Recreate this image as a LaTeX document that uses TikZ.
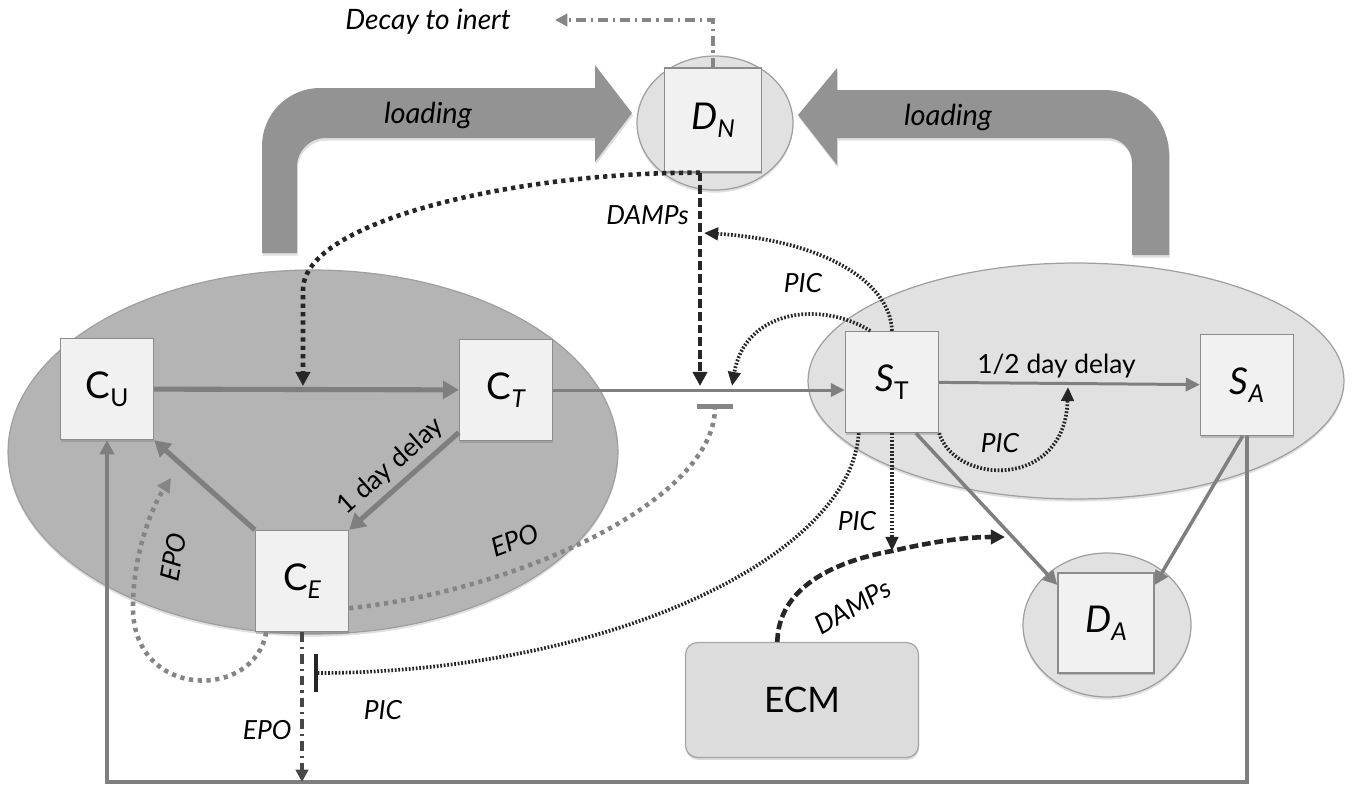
\documentclass[tikz,border=0pt]{standalone}
\usepackage{fontspec}
\setmainfont{Lato}
\usetikzlibrary{arrows.meta, shapes.geometric, shadows}

\definecolor{darkzone}{HTML}{B4B4B4}
\definecolor{lightzone}{HTML}{E1E1E1}
\definecolor{boxfill}{HTML}{F1F1F1}
\definecolor{boxline}{HTML}{8C8C8C}
\definecolor{flowgray}{HTML}{7F7F7F}
\definecolor{loadgray}{HTML}{939393}
\definecolor{epogray}{HTML}{858585}
\definecolor{darkline}{HTML}{262626}
\definecolor{ecmfill}{HTML}{DCDCDC}

% small lowered index for the state names
\newcommand{\lsub}[1]{\raisebox{-0.22em}{\fontsize{14}{16}\selectfont #1}}

\begin{document}
\begin{tikzpicture}[
  x=0.02cm, y=-0.02cm,
  zone/.style={ellipse, inner sep=0pt, draw=gray!75, line width=0.7pt,
               drop shadow={shadow xshift=0pt, shadow yshift=-1.5pt, opacity=0.25}},
  box/.style={rectangle, draw=boxline, fill=boxfill, line width=0.8pt,
              minimum width=1.86cm, minimum height=2.02cm, inner sep=0pt,
              font=\fontsize{21}{25}\selectfont,
              drop shadow={shadow xshift=0.3pt, shadow yshift=-1.4pt, opacity=0.4}},
  ecmbox/.style={rectangle, rounded corners=0.24cm, draw=gray!70, fill=ecmfill,
                 line width=0.7pt, minimum width=4.66cm, minimum height=2.3cm,
                 font=\fontsize{20}{24}\selectfont,
                 drop shadow={shadow xshift=0.3pt, shadow yshift=-1.4pt, opacity=0.3}},
  loadarrow/.style={fill=loadgray,
                    drop shadow={shadow xshift=0.5pt, shadow yshift=-1.5pt, opacity=0.25}},
  lbl/.style={font=\fontsize{15}{18}\selectfont\itshape, inner sep=2pt},
  txt/.style={font=\fontsize{15}{18}\selectfont, inner sep=2pt},
  thickflow/.style={draw=flowgray, line width=2.9pt, -{Triangle[length=9pt, width=10pt]}},
  midflow/.style={draw=flowgray, line width=2pt, -{Triangle[length=8pt, width=8pt]}},
  thinflow/.style={draw=flowgray, line width=1.7pt, -{Triangle[length=8pt, width=7.5pt]}},
  dotthick/.style={draw=darkline, line width=2.6pt, dash pattern=on 2.4pt off 2.4pt,
                   -{Triangle[length=8pt, width=8pt]}},
  picdot/.style={draw=darkline, line width=2.1pt, dash pattern=on 1pt off 1pt,
                 -{Triangle[length=8pt, width=7pt]}},
  dampsline/.style={draw=darkline, line width=2.6pt, dash pattern=on 5pt off 2.2pt,
                    -{Triangle[length=8pt, width=8pt]}},
  epodash/.style={draw=epogray, line width=2.6pt, dash pattern=on 2.4pt off 2.6pt,
                  -{Triangle[length=8pt, width=8pt]}},
  epochain/.style={draw=darkline!85, line width=2pt,
                   dash pattern=on 5.5pt off 2.8pt on 1.3pt off 2.8pt,
                   -{Triangle[length=7pt, width=7pt]}},
  decaychain/.style={draw=epogray, line width=1.9pt,
                     dash pattern=on 5.5pt off 2.8pt on 1.3pt off 2.8pt,
                     -{Triangle[length=7pt, width=7pt]}},
]
\useasboundingbox (0,0) rectangle (1359,785);

% compartments
\node[zone, fill=darkzone, minimum width=12.2cm, minimum height=7.28cm] (ctissue) at (313,452) {};
\node[zone, fill=lightzone, minimum width=10.72cm, minimum height=4.72cm] (stissue) at (1076,381) {};
\node[zone, fill=lightzone, minimum width=3.12cm, minimum height=2.68cm] (dnzone) at (715,123) {};
\node[zone, fill=lightzone, minimum width=3.36cm, minimum height=2.88cm] (dazone) at (1107,625) {};

% loading arrows
\path[loadarrow] (262,253) -- (262,146) .. controls (262,114) and (288,88) .. (320,88)
  -- (595,88) -- (595,65) -- (632,113) -- (595,162) -- (595,138) -- (325,138)
  .. controls (310,138) and (297,151) .. (297,166) -- (297,253) -- cycle;
\path[loadarrow] (1169,255) -- (1169,155) .. controls (1169,119) and (1140,90) .. (1104,90)
  -- (837,90) -- (837,68) -- (798,115) -- (837,165) -- (837,138) -- (1107,138)
  .. controls (1121,138) and (1132,149) .. (1132,163) -- (1132,255) -- cycle;
\node[lbl, font=\fontsize{16.5}{19}\selectfont\itshape] (loadL) at (428,115) {loading};
\node[lbl, font=\fontsize{16.5}{19}\selectfont\itshape] (loadR) at (948,117) {loading};

% cell states
\node[box] (CU) at (107,389) {C\lsub{U}};
\node[box] (CT) at (506,390) {C\lsub{\itshape T}};
\node[box] (CE) at (302,581) {C\lsub{\itshape E}};
\node[box] (ST) at (892,382) {\textit{S}\lsub{T}};
\node[box] (SA) at (1247,385) {\textit{S}\lsub{\itshape A}};
\node[box, minimum width=1.94cm, minimum height=2.08cm] (DN) at (713,120) {\textit{D}\lsub{\itshape N}};
\node[box, minimum width=1.92cm, minimum height=2cm] (DA) at (1106,623) {\textit{D}\lsub{\itshape A}};
\node[ecmbox] (ECM) at (802,700) {ECM};
\node[lbl, font=\fontsize{16}{19}\selectfont\itshape] (decay) at (428,22) {Decay to inert};

% hit points on other connectors
\coordinate (cuhit) at (303,386);
\coordinate (damphit) at (700,386);
\coordinate (cthit) at (732,386);
\coordinate (epobar) at (715,404);
\coordinate (dnhit) at (704,233);
\coordinate (sahit) at (1068,387);
\coordinate (ecmhit) at (892,551);
\coordinate (dampend) at (1005,537);
\coordinate (picbar) at (314,673);
\coordinate (cehit) at (171,478);
\coordinate (botline) at (0,782);
\coordinate (decayend) at (555,20);

% main flow
\draw[thickflow] (CU) -- (CT);
\draw[thickflow] (CT.222) -- node[txt, sloped, above=1pt] {1 day delay} (CE.north east);
\draw[thickflow] (CE.north west) -- (CU.south east);
\draw[thinflow] (CT) -- (CT -| ST.west);
\draw[thinflow] (ST) -- node[txt, above, pos=0.45] {1/2 day delay} (SA);
\draw[midflow] (ST.-65) -- (DA.142);
\draw[midflow] (SA.-95) -- (DA.38);
\draw[midflow] (SA.south) -- (SA.south |- botline) -| (CU.south);

% DAMPs from dead cells
\draw[dampsline] (DN.south -| damphit) -- node[lbl, left, pos=0.2, xshift=-3pt] {DAMPs} (damphit);
\draw[dotthick] (DN.south -| damphit) .. controls (520,172) and (303,220) .. (303,290) -- (cuhit);
\draw[decaychain] (DN.north) |- (decayend);
\draw[dampsline] (ECM.113) .. controls (778,590) and (830,562) .. (ecmhit)
  .. controls (940,540) and (970,537) .. (dampend);
\node[lbl, rotate=30] (dampslbl) at (853,607) {DAMPs};

% PIC
\draw[picdot] (ST.north) .. controls (890,280) and (820,240) .. (dnhit);
\draw[picdot] (ST.113) .. controls (820,300) and (745,310) .. (cthit);
\node[lbl] (piclblA) at (803,283) {PIC};
\draw[picdot] (ST.south east) .. controls (955,485) and (1065,490) .. (sahit);
\node[lbl] (piclblB) at (1000,443) {PIC};
\draw[picdot] (ST.south) -- node[lbl, left, pos=0.75, xshift=-6pt] {PIC} (ecmhit);
\draw[picdot, -{Bar[width=22pt]}] (ST.237) .. controls (850,560) and (600,673) .. (picbar);
\node[lbl] (piclblC) at (383,710) {PIC};

% EPO
\draw[epodash, -{Bar[width=21pt]}] (CE.-30) .. controls (520,590) and (715,500) .. (epobar);
\node[lbl, rotate=20] (epolblA) at (515,540) {EPO};
\draw[epodash] (CE.235) .. controls (255,700) and (135,700) .. (133,610)
  .. controls (132,560) and (150,510) .. (cehit);
\node[lbl, rotate=80] (epolblB) at (173,557) {EPO};
\draw[epochain] (CE.south) -- node[lbl, left, pos=0.65, xshift=-3pt] {EPO} (CE.south |- botline);
\end{tikzpicture}
\end{document}
